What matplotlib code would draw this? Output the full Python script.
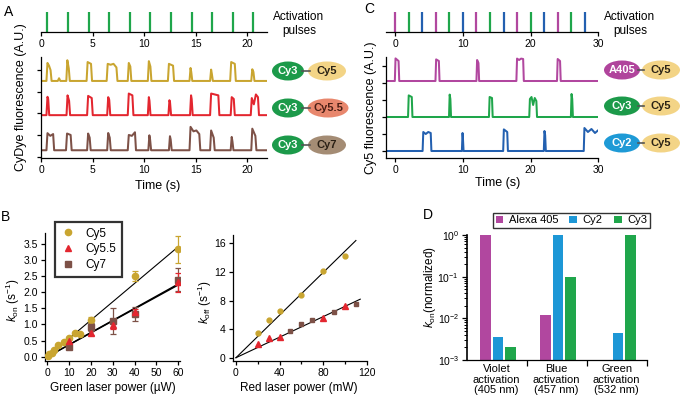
import numpy as np
import matplotlib
matplotlib.use('Agg')
import matplotlib.pyplot as plt
from matplotlib.patches import Ellipse
from matplotlib.lines import Line2D

plt.rcParams['font.family'] = ['Liberation Sans', 'DejaVu Sans']
plt.rcParams['mathtext.fontset'] = 'custom'
plt.rcParams['mathtext.rm'] = 'Liberation Sans'
plt.rcParams['mathtext.it'] = 'Liberation Sans:italic'
plt.rcParams['mathtext.bf'] = 'Liberation Sans:bold'
plt.rcParams['axes.linewidth'] = 0.9
plt.rcParams['xtick.major.width'] = 0.9
plt.rcParams['ytick.major.width'] = 0.9
plt.rcParams['xtick.major.size'] = 3
plt.rcParams['ytick.major.size'] = 3
plt.rcParams['xtick.labelsize'] = 7.5
plt.rcParams['ytick.labelsize'] = 7.5
plt.rcParams['xtick.major.pad'] = 2
plt.rcParams['ytick.major.pad'] = 2

GOLD = '#c9a530'
RED = '#e3262f'
BROWN = '#7d5147'
GREEN = '#1fa64b'
MAG = '#b1479f'
BLUE_T = '#2360b0'
CYAN = '#1d97d6'

# ---------------- Panel A data ----------------
pulses_A = [0.6, 2.6, 4.6, 6.6, 8.6, 10.6, 12.6, 14.6, 16.6, 18.6, 20.6]
# events: (t_on, t_off, [plateau levels])
A_cy5 = [(0.55, 0.95, [1.0, 0.85, 0.6]), (1.65, 1.8, [0.15]), (2.48, 2.72, [1.15, 0.7]),
         (4.45, 4.88, [1.05, 0.95]), (6.4, 7.35, [0.95, 0.9, 0.95, 0.75]),
         (8.45, 8.7, [1.0, 0.8]), (10.4, 10.65, [1.1, 0.8]), (12.35, 12.85, [0.95, 0.85]),
         (14.45, 14.62, [0.72, 0.5]), (16.45, 16.62, [0.63, 0.4]),
         (18.4, 18.85, [1.05, 0.95]), (20.45, 20.66, [0.65, 0.5])]
A_cy55 = [(0.55, 0.72, [1.02, 0.9]), (2.5, 2.75, [1.1, 0.8]), (4.5, 4.95, [1.07, 0.95]),
          (6.45, 6.65, [1.0, 0.85]), (8.45, 8.9, [1.2, 1.1]), (10.4, 10.56, [1.0, 0.8]),
          (12.4, 12.56, [0.83, 0.7]), (14.5, 14.66, [1.1, 0.9]),
          (16.45, 17.25, [1.2, 1.15, 1.1]), (18.45, 18.75, [1.0, 0.9]),
          (20.4, 21.1, [0.95, 0.6, 1.15, 1.0])]
A_cy7 = [(0.55, 1.2, [0.95, 0.8, 0.9]), (2.45, 2.9, [0.93, 0.85]), (4.5, 4.75, [0.93, 0.7]),
         (6.45, 6.7, [0.96, 0.7]), (8.45, 9.15, [0.85, 0.8, 1.0]), (10.45, 10.62, [0.83, 0.6]),
         (12.45, 12.62, [0.78, 0.6]), (14.45, 15.4, [1.3, 1.05, 1.1, 0.9]),
         (16.45, 16.8, [1.1, 0.7]), (18.45, 18.62, [0.74, 0.5]), (20.45, 20.85, [1.2, 0.8])]

# ---------------- Panel C data ----------------
pulses_C = [0, 2, 4, 6, 8, 10, 12, 14, 16, 18, 20, 22, 24, 26, 28]
pulse_C_colors = [MAG, GREEN, BLUE_T] * 5
C_a405 = [(0.0, 0.55, [1.13, 1.0]), (6.0, 6.5, [1.08, 1.0]), (12.05, 12.35, [1.05, 0.9]),
          (17.95, 18.95, [1.12, 1.05, 1.12, 1.1]), (23.95, 24.4, [1.1, 1.0])]
C_cy3 = [(1.95, 2.5, [1.08, 1.0]), (8.0, 8.2, [1.12, 0.9]), (13.9, 14.35, [1.0, 0.95]),
         (19.85, 20.9, [0.9, 1.0, 0.6, 0.95, 0.8]), (26.0, 26.2, [1.15, 0.9])]
C_cy2 = [(4.1, 5.3, [0.95, 0.85, 0.95, 0.9]), (9.9, 10.05, [0.9, 0.7]),
         (16.0, 16.6, [1.08, 0.95]), (22.0, 22.2, [1.0, 0.8]),
         (27.9, 30.6, [1.15, 0.95, 1.1, 0.9, 1.05, 0.95])]

# ---------------- Panel B data ----------------
on_cy5_p = [0.5, 1, 2, 3, 5, 7.5, 10, 12.5, 15, 20, 40, 60]
on_cy5_k = [0.03, 0.08, 0.12, 0.21, 0.36, 0.46, 0.58, 0.75, 0.72, 1.13, 2.5, 3.32]
on_cy5_e = [0, 0, 0, 0, 0.02, 0.03, 0.03, 0.03, 0.03, 0.1, 0.16, 0.43]
on_cy55_p = [10, 20, 30, 40, 60]
on_cy55_k = [0.48, 0.74, 0.97, 1.38, 2.3]
on_cy55_e = [0.08, 0.08, 0.12, 0.1, 0.3]
on_cy7_p = [10, 20, 30, 40, 60]
on_cy7_k = [0.3, 0.92, 1.1, 1.32, 2.38]
on_cy7_e = [0.05, 0.12, 0.4, 0.22, 0.36]
on_fit_slopes = [0.0567, 0.0370, 0.0375]
on_fit_end = 60

off_cy5_p = [20, 30, 40, 60, 80, 100]
off_cy5_k = [3.5, 5.3, 6.5, 8.8, 12.1, 14.2]
off_cy55_p = [20, 30, 40, 80, 100]
off_cy55_k = [1.9, 2.8, 2.9, 5.6, 7.2]
off_cy7_p = [50, 60, 70, 90, 110]
off_cy7_k = [3.7, 4.7, 5.3, 6.35, 7.5]
off_fit_slopes = [0.149, 0.0718]
off_fit_end = [110, 114]

# ---------------- Panel D data ----------------
groups = ['Violet\nactivation\n(405 nm)', 'Blue\nactivation\n(457 nm)', 'Green\nactivation\n(532 nm)']
d_alexa = [1.0, 0.012, np.nan]
d_cy2 = [0.0036, 1.0, 0.0044]
d_cy3 = [0.0021, 0.098, 1.0]

W, H = 684, 404
fig = plt.figure(figsize=(W / 100, H / 100), dpi=100)


def ax_px(l, t, r, b):
    return fig.add_axes([l / W, 1 - b / H, (r - l) / W, (b - t) / H])


def fx(x):
    return x / W


def fy(y):
    return 1 - y / H


def build(events, offset, t_start, t_end, ramp=0.05):
    ts, ys = [t_start], [offset]
    for t0, t1, lv in events:
        ts.append(t0 - ramp); ys.append(offset)
        n = len(lv)
        pts = np.linspace(t0 + ramp, t1 - ramp, n) if n > 1 else [0.5 * (t0 + t1)]
        for tt, v in zip(pts, lv):
            ts.append(tt); ys.append(offset + v)
        ts.append(t1 + ramp); ys.append(offset)
    if t_end > ts[-1]:
        ts.append(t_end); ys.append(offset)
    return ts, ys


def pulse_axis(ax, xlim, ticks):
    ax.set_xlim(*xlim)
    ax.set_ylim(0, 1)
    for s in ['top', 'right', 'left']:
        ax.spines[s].set_visible(False)
    ax.set_yticks([])
    ax.set_xticks(ticks)
    ax.patch.set_alpha(0)


# ---------- Panel A ----------
axAp = ax_px(41.3, 12, 266.7, 32)
pulse_axis(axAp, (0, 21.9), [0, 5, 10, 15, 20])
axAp.vlines(pulses_A, 0, 1, color=GREEN, lw=1.6)

axA = ax_px(41.3, 57, 266.7, 158)
for ev, off, col in [(A_cy5, 0, GOLD), (A_cy55, -1.9, RED), (A_cy7, -3.85, BROWN)]:
    t, y = build(ev, off, 0, 21.9)
    axA.plot(t, y, color=col, lw=1.45, solid_joinstyle='round')
axA.set_xlim(0, 21.9)
axA.set_ylim(-4.28, 1.33)
axA.set_xticks([0, 5, 10, 15, 20])
axA.set_yticks([0.6, -0.6, -1.8, -3.0, -4.2])
axA.set_yticklabels([])
for s in ['top', 'right']:
    axA.spines[s].set_visible(False)
axA.patch.set_alpha(0)

fig.text(fx(158), fy(186), 'Time (s)', ha='center', va='center', fontsize=9)
fig.text(fx(21), fy(97), 'CyDye fluorescence (A.U.)', rotation=90, ha='center', va='center', fontsize=9)
fig.text(fx(299), fy(17), 'Activation', ha='center', va='center', fontsize=8.5)
fig.text(fx(299), fy(31), 'pulses', ha='center', va='center', fontsize=8.5)

# ---------- Panel C ----------
axCp = ax_px(385.7, 12, 598.3, 31.7)
pulse_axis(axCp, (-1.4, 30), [0, 10, 20, 30])
axCp.vlines(pulses_C, 0, 1, colors=pulse_C_colors, lw=1.6)

axC = ax_px(385.7, 57, 598.3, 158)
for ev, off, col in [(C_a405, 0, MAG), (C_cy3, -1.8, GREEN), (C_cy2, -3.5, BLUE_T)]:
    t, y = build(ev, off, -1.3, 30)
    axC.plot(t, y, color=col, lw=1.45, solid_joinstyle='round')
axC.set_xlim(-1.4, 30)
axC.set_ylim(-3.85, 1.2)
axC.set_xticks([0, 10, 20, 30])
axC.set_yticks([-3.5, -2.65, -1.8, -0.95, -0.1, 0.75])
axC.set_yticklabels([])
for s in ['top', 'right']:
    axC.spines[s].set_visible(False)
axC.patch.set_alpha(0)

fig.text(fx(498), fy(183), 'Time (s)', ha='center', va='center', fontsize=9)
fig.text(fx(371), fy(108), 'Cy5 fluorescence (A.U.)', rotation=90, ha='center', va='center', fontsize=9)
fig.text(fx(630), fy(17), 'Activation', ha='center', va='center', fontsize=8.5)
fig.text(fx(630), fy(31), 'pulses', ha='center', va='center', fontsize=8.5)


# ---------- dye ellipses ----------
def dye_pair(cx1, cx2, cy, w1, w2, c1, c2, t1, t2, tc1, tc2):
    h = 19
    fig.add_artist(Line2D([fx(cx1 + w1 / 2 - 2), fx(cx2 - w2 / 2 + 2)], [fy(cy), fy(cy)],
                          color='#555555', lw=1.2, transform=fig.transFigure))
    fig.add_artist(Ellipse((fx(cx1), fy(cy)), w1 / W, h / H, facecolor=c1, edgecolor='none',
                           transform=fig.transFigure))
    fig.add_artist(Ellipse((fx(cx2), fy(cy)), w2 / W, h / H, facecolor=c2, edgecolor='none',
                           transform=fig.transFigure))
    fig.text(fx(cx1), fy(cy), t1, ha='center', va='center', fontsize=8, fontweight='bold', color=tc1)
    fig.text(fx(cx2), fy(cy), t2, ha='center', va='center', fontsize=8, fontweight='bold', color=tc2)


dye_pair(288, 327, 71, 32, 38, '#1c9a4a', '#f3d486', 'Cy3', 'Cy5', 'white', '#2a2215')
dye_pair(288, 328, 108, 32, 41, '#1c9a4a', '#e8876d', 'Cy3', 'Cy5.5', 'white', '#4a1e14')
dye_pair(288, 327, 145, 32, 38, '#1c9a4a', '#a48c74', 'Cy3', 'Cy7', 'white', '#2a2015')
dye_pair(622, 661, 70, 36, 38, '#b0449c', '#f3d486', 'A405', 'Cy5', 'white', '#2a2215')
dye_pair(622, 661, 106, 36, 38, '#1c9a4a', '#f3d486', 'Cy3', 'Cy5', 'white', '#2a2215')
dye_pair(622, 661, 143, 36, 38, '#1e9ad6', '#f3d486', 'Cy2', 'Cy5', 'white', '#2a2215')

# ---------- Panel B left ----------
axB1 = ax_px(45.1, 233.3, 180.3, 361)
xl = np.array([0, on_fit_end])
axB1.plot(xl, on_fit_slopes[0] * xl, color='black', lw=0.8, zorder=1)
axB1.plot(xl, on_fit_slopes[1] * xl, color='black', lw=1.0, zorder=1)
axB1.plot(xl, on_fit_slopes[2] * xl, color='black', lw=1.0, zorder=1)
axB1.errorbar(on_cy5_p, on_cy5_k, yerr=on_cy5_e, fmt='o', color=GOLD, ms=4.5, capsize=2,
              elinewidth=0.9, capthick=0.9, label='Cy5', zorder=3)
axB1.errorbar(on_cy7_p, on_cy7_k, yerr=on_cy7_e, fmt='s', color=BROWN, ms=4, capsize=2,
              elinewidth=0.9, capthick=0.9, label='Cy7', zorder=3)
axB1.errorbar(on_cy55_p, on_cy55_k, yerr=on_cy55_e, fmt='^', color=RED, ms=4.5, capsize=2,
              elinewidth=0.9, capthick=0.9, label='Cy5.5', zorder=3)
axB1.set_xlim(-1, 61)
axB1.set_ylim(-0.13, 3.82)
axB1.set_xticks([0, 10, 20, 30, 40, 50, 60])
axB1.set_yticks([0, 0.5, 1.0, 1.5, 2.0, 2.5, 3.0, 3.5])
axB1.set_yticklabels(['0.0', '0.5', '1.0', '1.5', '2.0', '2.5', '3.0', '3.5'])
for s in ['top', 'right']:
    axB1.spines[s].set_visible(False)
h, l = axB1.get_legend_handles_labels()
order = [l.index('Cy5'), l.index('Cy5.5'), l.index('Cy7')]
legB = fig.legend([h[i][0] for i in order], [l[i] for i in order], loc='upper left',
                  bbox_to_anchor=(fx(55), fy(221.7)), fontsize=8.5, frameon=True, fancybox=False,
                  handlelength=1.2, handletextpad=0.9, labelspacing=0.3, borderpad=0.5,
                  borderaxespad=0)
legB.get_frame().set_edgecolor('black')
legB.get_frame().set_linewidth(1.6)
fig.text(fx(13), fy(300), r'$k_{\mathrm{on}}$ (s$^{-1}$)', rotation=90, ha='center', va='center', fontsize=8.5)
fig.text(fx(113), fy(388), 'Green laser power (µW)', ha='center', va='center', fontsize=8.5)

# ---------- Panel B right ----------
axB2 = ax_px(232.7, 235, 366.8, 361)
for sl, xe in zip(off_fit_slopes, off_fit_end):
    xx = np.array([0, xe])
    axB2.plot(xx, sl * xx, color='black', lw=0.8, zorder=1)
axB2.plot(off_cy5_p, off_cy5_k, 'o', color=GOLD, ms=3.5, zorder=3)
axB2.plot(off_cy7_p, off_cy7_k, 's', color=BROWN, ms=3.5, zorder=3)
axB2.plot(off_cy55_p, off_cy55_k, '^', color=RED, ms=4, zorder=3)
axB2.set_xlim(-3, 120)
axB2.set_ylim(-0.46, 17.16)
axB2.set_xticks([0, 40, 80, 120])
axB2.set_xticks([20, 60, 100], minor=True)
axB2.tick_params(axis='x', which='minor', length=2.5, width=0.9)
axB2.set_yticks([0, 4, 8, 12, 16])
for s in ['top', 'right']:
    axB2.spines[s].set_visible(False)
fig.text(fx(205), fy(302), r'$k_{\mathrm{off}}$ (s$^{-1}$)', rotation=90, ha='center', va='center', fontsize=8.5)
fig.text(fx(299), fy(388), 'Red laser power (mW)', ha='center', va='center', fontsize=8.5)

# ---------- Panel D ----------
axD = ax_px(466.7, 235, 646.7, 360)
xg = np.arange(len(groups))
bw = 0.175
axD.bar(xg - 0.19, d_alexa, bw, color=MAG, label='Alexa 405')
axD.bar(xg + 0.025, d_cy2, bw, color=CYAN, label='Cy2')
axD.bar(xg + 0.23, d_cy3, bw, color=GREEN, label='Cy3')
axD.set_yscale('log')
axD.set_ylim(1e-3, 1)
axD.set_xlim(-0.5, 2.5)
axD.set_xticks([0.5, 1.5, 2.5])
axD.set_xticklabels([])
axD.set_xticks(xg, minor=True)
axD.set_xticklabels(groups, minor=True, fontsize=8, linespacing=1.05)
axD.tick_params(axis='x', which='minor', length=0, pad=3)
axD.tick_params(axis='x', which='major', length=4)
axD.tick_params(axis='y', which='minor', length=2, width=0.7)
axD.tick_params(axis='y', which='major', length=3.5)
axD.spines['left'].set_linewidth(1.2)
for s in ['top', 'right']:
    axD.spines[s].set_visible(False)
legD = fig.legend(*axD.get_legend_handles_labels(), loc='upper right',
                  bbox_to_anchor=(fx(650), fy(212.7)), ncol=3, fontsize=8, frameon=True,
                  fancybox=False, handlelength=0.7, handleheight=0.6, handletextpad=0.5,
                  columnspacing=1.0, borderpad=0.25, borderaxespad=0)
legD.get_frame().set_edgecolor('black')
legD.get_frame().set_linewidth(1.0)
fig.text(fx(430), fy(287), r'$k_{\mathrm{on}}$(normalized)', rotation=90, ha='center', va='center', fontsize=8.5)

# ---------- panel letters ----------
fig.text(fx(9), fy(12), 'A', ha='center', va='center', fontsize=10)
fig.text(fx(6), fy(217), 'B', ha='center', va='center', fontsize=10)
fig.text(fx(369), fy(9), 'C', ha='center', va='center', fontsize=10)
fig.text(fx(428), fy(215), 'D', ha='center', va='center', fontsize=10)

fig.savefig('out.png', dpi=100)
